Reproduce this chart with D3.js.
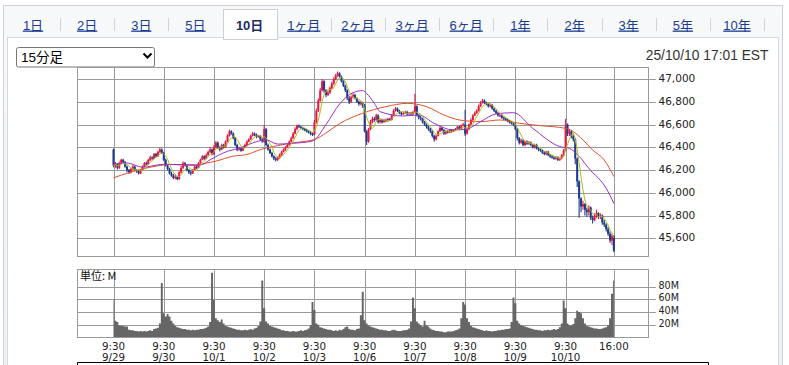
<!DOCTYPE html>
<html><head><meta charset="utf-8">
<script src="https://cdn.jsdelivr.net/npm/d3@7"></script>
<style>
html,body{margin:0;padding:0;background:#fff;overflow:hidden;}
svg{display:block;}
</style></head><body>
<svg id="c" width="789" height="365"></svg>
<script>
// ---------- data ----------
const tabs = ["1日","2日","3日","5日","10日","1ヶ月","2ヶ月","3ヶ月","6ヶ月","1年","2年","3年","5年","10年"];
const activeTab = "10日";
const intervalLabel = "15分足";
const timestampLabel = "25/10/10 17:01 EST";
const volumeUnitLabel = "単位: M";
const dayLabels = ["9/29","9/30","10/1","10/2","10/3","10/6","10/7","10/8","10/9","10/10"];
const openTimeLabel = "9:30";
const closeTimeLabel = "16:00";
const barsPerDay = 26;
const priceTicks = [45600,45800,46000,46200,46400,46600,46800,47000];
const volumeTicks = [20,40,60,80];

const firstOpen = 46380;
const closes = [
46240,46250,46220,46260,46290,46270,46230,46200,46180,46210,46230,46200,46190,46170,46200,46230,46260,46250,46290,46310,46300,46340,46320,46360,46380,46350,
46290,46240,46210,46170,46150,46130,46140,46120,46180,46220,46260,46240,46200,46180,46170,46200,46230,46220,46260,46290,46320,46300,46330,46360,46380,46340,
46400,46440,46400,46380,46420,46400,46450,46500,46540,46520,46480,46420,46380,46390,46370,46400,46420,46450,46470,46500,46520,46510,46490,46500,46470,46450,
46560,46420,46380,46350,46320,46300,46290,46310,46330,46360,46380,46400,46420,46450,46480,46520,46560,46590,46580,46570,46560,46550,46540,46530,46520,46510,
46620,46720,46810,46900,46980,46900,46860,46880,46920,46960,47000,47030,47050,47020,46980,46940,46900,46830,46800,46840,46860,46830,46800,46780,46790,46760,
46540,46450,46560,46620,46650,46640,46680,46620,46640,46620,46640,46630,46650,46640,46680,46720,46740,46720,46700,46690,46700,46710,46690,46700,46690,46710,
46760,46680,46660,46650,46620,46600,46580,46560,46540,46500,46470,46500,46540,46570,46550,46520,46540,46530,46550,46540,46550,46560,46580,46560,46590,46600,
46520,46560,46600,46640,46680,46700,46720,46760,46790,46810,46790,46780,46760,46770,46740,46720,46700,46680,46680,46660,46650,46640,46630,46620,46610,46600,
46560,46480,46440,46460,46420,46450,46430,46440,46420,46400,46420,46390,46380,46370,46350,46340,46360,46330,46320,46310,46300,46310,46290,46300,46330,46370,
46600,46520,46540,46500,46470,46300,46100,45950,45880,45900,45850,45830,45870,45780,45760,45800,45820,45790,45800,45740,45720,45680,45640,45580,45620,45490];
const highs = [
46390,46270,46260,46275,46300,46300,46280,46240,46210,46220,46245,46240,46210,46200,46210,46240,46270,46275,46300,46325,46320,46350,46350,46370,46395,46390,
46360,46300,46250,46220,46185,46165,46160,46150,46190,46235,46275,46270,46250,46210,46195,46210,46240,46245,46270,46300,46330,46330,46345,46370,46400,46390,
46420,46455,46450,46410,46430,46430,46460,46515,46555,46550,46530,46490,46430,46405,46400,46410,46430,46460,46480,46510,46535,46530,46520,46510,46505,46480,
46595,46570,46430,46390,46360,46330,46315,46320,46345,46370,46390,46410,46430,46460,46495,46535,46575,46600,46600,46590,46580,46570,46560,46550,46540,46530,
46640,46740,46830,46920,47000,46990,46910,46900,46935,46975,47015,47045,47065,47060,47030,46990,46950,46910,46850,46855,46875,46870,46840,46810,46805,46800,
46780,46550,46570,46640,46670,46665,46695,46690,46655,46650,46650,46650,46660,46660,46690,46735,46755,46750,46730,46710,46715,46720,46720,46710,46710,46720,
46870,46770,46690,46675,46660,46630,46610,46590,46570,46550,46510,46510,46550,46585,46580,46560,46550,46550,46560,46560,46560,46570,46590,46590,46600,46615,
46730,46575,46610,46655,46690,46715,46735,46775,46805,46825,46820,46800,46790,46785,46780,46750,46730,46710,46695,46690,46670,46660,46650,46640,46630,46620,
46620,46570,46490,46475,46470,46460,46460,46455,46450,46430,46430,46430,46400,46390,46380,46365,46370,46370,46340,46330,46320,46320,46320,46310,46340,46385,
46650,46610,46560,46550,46510,46480,46310,46110,45960,45930,45910,45870,45890,45880,45800,45820,45850,45830,45820,45810,45760,45730,45700,45660,45640,45630];
const lows = [
46225,46220,46205,46210,46250,46255,46220,46180,46165,46170,46200,46190,46175,46160,46165,46195,46225,46240,46245,46280,46290,46295,46310,46315,46350,46340,
46280,46230,46195,46160,46140,46120,46120,46110,46115,46170,46210,46230,46190,46165,46155,46165,46195,46210,46215,46255,46285,46290,46295,46325,46350,46330,
46330,46390,46385,46365,46375,46390,46395,46445,46495,46510,46470,46410,46365,46370,46360,46365,46395,46415,46445,46465,46495,46500,46480,46485,46460,46440,
46440,46410,46370,46340,46310,46285,46275,46280,46300,46325,46355,46370,46395,46415,46445,46475,46515,46550,46570,46560,46550,46540,46530,46520,46505,46500,
46505,46610,46710,46800,46890,46880,46840,46850,46870,46910,46950,46990,47020,47010,46970,46930,46885,46815,46780,46790,46830,46820,46790,46765,46770,46745,
46530,46420,46440,46550,46610,46625,46630,46610,46610,46610,46615,46620,46625,46630,46635,46675,46715,46710,46690,46680,46685,46695,46680,46685,46680,46685,
46700,46670,46645,46635,46610,46590,46565,46545,46525,46485,46450,46460,46495,46535,46540,46510,46510,46520,46525,46530,46535,46545,46555,46550,46555,46585,
46500,46510,46550,46595,46630,46675,46695,46715,46755,46785,46780,46770,46750,46750,46730,46710,46690,46670,46665,46650,46640,46630,46620,46610,46600,46590,
46550,46460,46425,46430,46410,46410,46420,46420,46410,46390,46390,46380,46365,46360,46340,46330,46330,46320,46305,46300,46290,46290,46280,46280,46295,46320,
46365,46500,46500,46480,46450,46250,46050,45780,45830,45850,45800,45790,45800,45760,45730,45750,45780,45770,45770,45720,45700,45660,45620,45560,45540,45480];
const volumes = [
60,26,24,19,18,18,17,17,12,11,11,10,10,9,10,9,10,9,10,11,10,13,14,15,22,86,
38,33,37,33,26,22,18,16,15,14,13,13,12,12,11,12,11,12,12,13,13,14,15,17,24,102,
59,30,27,24,28,22,18,17,16,15,14,13,12,12,11,11,12,11,12,13,12,14,15,18,25,90,
46,25,22,18,17,16,15,14,13,11,11,10,10,9,9,10,9,9,10,11,10,11,12,14,19,56,
43,22,20,16,15,14,13,12,12,11,10,11,10,12,11,13,16,17,13,12,12,11,13,14,35,72,
27,22,19,17,16,15,14,13,12,12,11,11,10,10,11,12,11,10,10,10,11,11,12,14,25,63,
46,25,22,19,17,26,19,17,14,12,11,10,10,9,9,8,8,9,9,9,10,11,12,14,30,56,
52,30,24,18,16,15,14,13,12,11,10,11,10,10,9,10,10,11,11,12,12,13,13,14,24,63,
54,26,22,19,18,17,16,15,14,13,12,12,11,11,10,11,11,12,11,12,13,12,13,16,22,58,
46,22,19,19,21,30,42,40,38,30,22,18,17,16,15,14,14,13,13,14,15,16,19,30,69,90];

// medium moving average (purple) at bar indices
const maMidIdx = [0,7,15,26,45,50,59,66,74,79,85,93,103,110,117,124,129,131,135,138,150,158,166,176,183,190,198,207,217,231,236,241,247,252,255,259];
const maMidVal = [46250,46262,46225,46250,46245,46290,46365,46395,46450,46465,46428,46435,46455,46600,46780,46880,46898,46874,46786,46713,46675,46684,46610,46552,46561,46625,46693,46704,46567,46406,46390,46320,46195,46110,46040,45905];
// long moving average (orange)
const maLongIdx = [0,14,24,29,43,47,53,62,69,76,85,93,104,110,117,129,141,152,162,171,179,190,200,210,221,234,238,243,248,254,259];
const maLongVal = [46132,46205,46240,46249,46240,46257,46278,46322,46336,46380,46415,46439,46468,46526,46608,46699,46757,46786,46757,46684,46640,46625,46640,46611,46590,46566,46537,46464,46376,46288,46142];
const maShortPeriod = 5;

// ---------- styles ----------
const C = {
  up: "#ea1540", down: "#1b3a8f", maShort: "#aebc1a", maMid: "#9a2fc9", maLong: "#e0512b",
  grid: "#9a9a9a", vol: "#666666", text: "#222", link: "#1a3b8e"
};
const latin = "'Liberation Sans','Noto Sans CJK JP',Arial,sans-serif";
const axisFont = "'DejaVu Sans',Verdana,sans-serif";

const svg = d3.select("#c");

// ---------- page chrome ----------
const grad = svg.append("defs").append("linearGradient").attr("id","tabbg").attr("x1",0).attr("y1",0).attr("x2",0).attr("y2",1);
grad.append("stop").attr("offset","0").attr("stop-color","#f7f9fb");
grad.append("stop").attr("offset","1").attr("stop-color","#edf1f5");
svg.append("rect").attr("x",3.5).attr("y",5.5).attr("width",779).attr("height",380)
  .attr("fill","url(#tabbg)").attr("stroke","#cdd1d6");
svg.append("rect").attr("x",7.5).attr("y",37.5).attr("width",771).attr("height",360)
  .attr("fill","#fff").attr("stroke","#d6d9dd");
svg.append("rect").attr("x",223.5).attr("y",9.5).attr("width",54).attr("height",30)
  .attr("fill","#fff").attr("stroke","#cdd1d6");
svg.append("rect").attr("x",224).attr("y",36).attr("width",53).attr("height",3).attr("fill","#fff");

const tabX = d3.scaleLinear().domain([0, tabs.length-1]).range([33, 737]);
const activeIdx = tabs.indexOf(activeTab);
svg.append("g").selectAll("text").data(tabs).join("text")
  .attr("x",(d,i)=>tabX(i)).attr("y",29.5).attr("text-anchor","middle")
  .attr("font-family",latin).attr("font-size",13)
  .attr("font-weight",d=>d===activeTab?"bold":"normal")
  .attr("fill",d=>d===activeTab?"#1f2b5e":C.link)
  .style("text-decoration",d=>d===activeTab?"none":"underline")
  .text(d=>d);
svg.append("g").selectAll("line")
  .data(tabs.map((d,i)=>i).filter(i=>i!==activeIdx && i!==activeIdx-1))
  .join("line")
  .attr("x1",i=>Math.round(tabX(i)+27)+0.5).attr("x2",i=>Math.round(tabX(i)+27)+0.5)
  .attr("y1",18).attr("y2",31).attr("stroke","#d0d4d8");

// interval selector
svg.append("rect").attr("x",16.5).attr("y",47.5).attr("width",138).attr("height",19.5).attr("rx",2)
  .attr("fill","#fff").attr("stroke","#767676");
svg.append("text").attr("x",21).attr("y",62).attr("font-family",latin).attr("font-size",13.5)
  .attr("fill","#000").text(intervalLabel);
svg.append("path").attr("d","M143.5,53.5 L147.5,57.5 L151.5,53.5").attr("fill","none")
  .attr("stroke","#000").attr("stroke-width",2);

svg.append("text").attr("x",768.5).attr("y",60).attr("text-anchor","end")
  .attr("font-family",latin).attr("font-size",13.8).attr("fill","#333").text(timestampLabel);

// ---------- scales ----------
const nBars = closes.length;
const opens = [firstOpen].concat(closes.slice(0, nBars-1));
const x = d3.scaleLinear().domain([0, nBars-1]).range([113.5, 613.9]);
const yP = d3.scaleLinear().domain([45600, 47000]).range([238.3, 79]);
const yV = d3.scaleLinear().domain([0, 80]).range([337.3, 286.7]);
const P = {l:77.5, r:648.5, t:67.5, b:256.5};
const V = {l:77.5, r:648.5, t:269.5, b:337.5};
const dayStarts = dayLabels.map((d,i)=>i*barsPerDay);
const vGrid = dayStarts.concat([nBars-1]);
const crisp = v => Math.round(v)+0.5;

// ---------- price panel ----------
const pg = svg.append("g");
pg.append("rect").attr("x",P.l).attr("y",P.t).attr("width",P.r-P.l).attr("height",P.b-P.t)
  .attr("fill","#fff").attr("stroke",C.grid);
pg.append("g").selectAll("line").data(vGrid).join("line")
  .attr("x1",d=>crisp(x(d))).attr("x2",d=>crisp(x(d))).attr("y1",P.t).attr("y2",P.b)
  .attr("stroke",C.grid);
const pAxis = pg.append("g").attr("transform",`translate(${P.l},0)`)
  .call(d3.axisRight(yP).tickValues(priceTicks).tickSize(P.r-P.l+7).tickPadding(3).tickFormat(d3.format(",")));
pAxis.select(".domain").remove();
pAxis.selectAll(".tick").attr("transform",d=>`translate(0,${crisp(yP(d))-0.5})`);
pAxis.selectAll(".tick line").attr("stroke",C.grid).attr("shape-rendering","crispEdges").attr("transform","translate(0,0.5)");
pAxis.selectAll(".tick text").attr("font-family",axisFont).attr("font-size",10.5).attr("fill",C.text);

svg.append("defs").append("clipPath").attr("id","pclip").append("rect")
  .attr("x",P.l).attr("y",P.t).attr("width",P.r-P.l).attr("height",P.b-P.t);
const cg = pg.append("g").attr("clip-path","url(#pclip)");
const bars = d3.range(nBars);
cg.append("g").selectAll("line").data(bars).join("line")
  .attr("x1",i=>x(i)).attr("x2",i=>x(i)).attr("y1",i=>yP(highs[i])).attr("y2",i=>yP(lows[i]))
  .attr("stroke",i=>closes[i]>=opens[i]?C.up:C.down).attr("stroke-width",1.1);
cg.append("g").selectAll("rect").data(bars).join("rect")
  .attr("x",i=>x(i)-1).attr("width",2)
  .attr("y",i=>yP(Math.max(opens[i],closes[i])))
  .attr("height",i=>Math.max(1.2, Math.abs(yP(opens[i])-yP(closes[i]))))
  .attr("fill",i=>closes[i]>=opens[i]?C.up:C.down);

const maShort = bars.map(i=>d3.mean(closes.slice(Math.max(0,i-maShortPeriod+1), i+1)));
cg.append("path").attr("fill","none").attr("stroke",C.maLong).attr("stroke-width",1)
  .attr("d", d3.line().x(k=>x(maLongIdx[k])).y(k=>yP(maLongVal[k])).curve(d3.curveMonotoneX)(d3.range(maLongIdx.length)));
cg.append("path").attr("fill","none").attr("stroke",C.maMid).attr("stroke-width",1)
  .attr("d", d3.line().x(k=>x(maMidIdx[k])).y(k=>yP(maMidVal[k])).curve(d3.curveMonotoneX)(d3.range(maMidIdx.length)));
cg.append("path").attr("fill","none").attr("stroke",C.maShort).attr("stroke-width",1)
  .attr("d", d3.line().x(i=>x(i)).y(i=>yP(maShort[i]))(bars));

// ---------- volume panel ----------
const vg = svg.append("g");
vg.append("rect").attr("x",V.l).attr("y",V.t).attr("width",V.r-V.l).attr("height",V.b-V.t)
  .attr("fill","#fff").attr("stroke",C.grid);
const vAxis = vg.append("g").attr("transform",`translate(${V.l},0)`)
  .call(d3.axisRight(yV).tickValues(volumeTicks).tickSize(V.r-V.l+7).tickPadding(3).tickFormat(d=>d+"M"));
vAxis.select(".domain").remove();
vAxis.selectAll(".tick").attr("transform",d=>`translate(0,${crisp(yV(d))-0.5})`);
vAxis.selectAll(".tick line").attr("stroke",C.grid).attr("shape-rendering","crispEdges").attr("transform","translate(0,0.5)");
vAxis.selectAll(".tick text").attr("font-family",axisFont).attr("font-size",9.6).attr("fill",C.text).attr("dy","0.2em");
vg.append("g").selectAll("line").data(vGrid).join("line")
  .attr("x1",d=>crisp(x(d))).attr("x2",d=>crisp(x(d))).attr("y1",V.t).attr("y2",V.b)
  .attr("stroke",C.grid);
// volume bars drawn as one stepped area so adjacent bars merge without seams
const volStep = d3.area()
  .x(i=>x(i)).y0(V.b-0.5).y1(i=>yV(volumes[i])).curve(d3.curveStep);
vg.append("path").attr("fill",C.vol)
  .attr("d", volStep(bars));
vg.append("text").attr("x",80).attr("y",279.5).attr("font-family","'Noto Sans CJK JP',sans-serif")
  .attr("font-size",11).attr("fill","#111").text(volumeUnitLabel);

// ---------- x labels ----------
const xl = svg.append("g").attr("font-family",axisFont).attr("font-size",10.3).attr("fill",C.text).attr("text-anchor","middle");
const xTicks = dayStarts.map((g,i)=>({g, t:openTimeLabel, d:dayLabels[i]})).concat([{g:nBars-1, t:closeTimeLabel, d:""}]);
const xt = xl.selectAll("text").data(xTicks).join("text").attr("x",d=>x(d.g));
xt.append("tspan").attr("x",d=>x(d.g)).attr("y",349.5).text(d=>d.t);
xt.append("tspan").attr("x",d=>x(d.g)).attr("y",360.5).text(d=>d.d);

// bottom table frame
svg.append("path").attr("d","M77.5,370 V362.5 H708.5 V370").attr("fill","none").attr("stroke","#000");
</script></body></html>
